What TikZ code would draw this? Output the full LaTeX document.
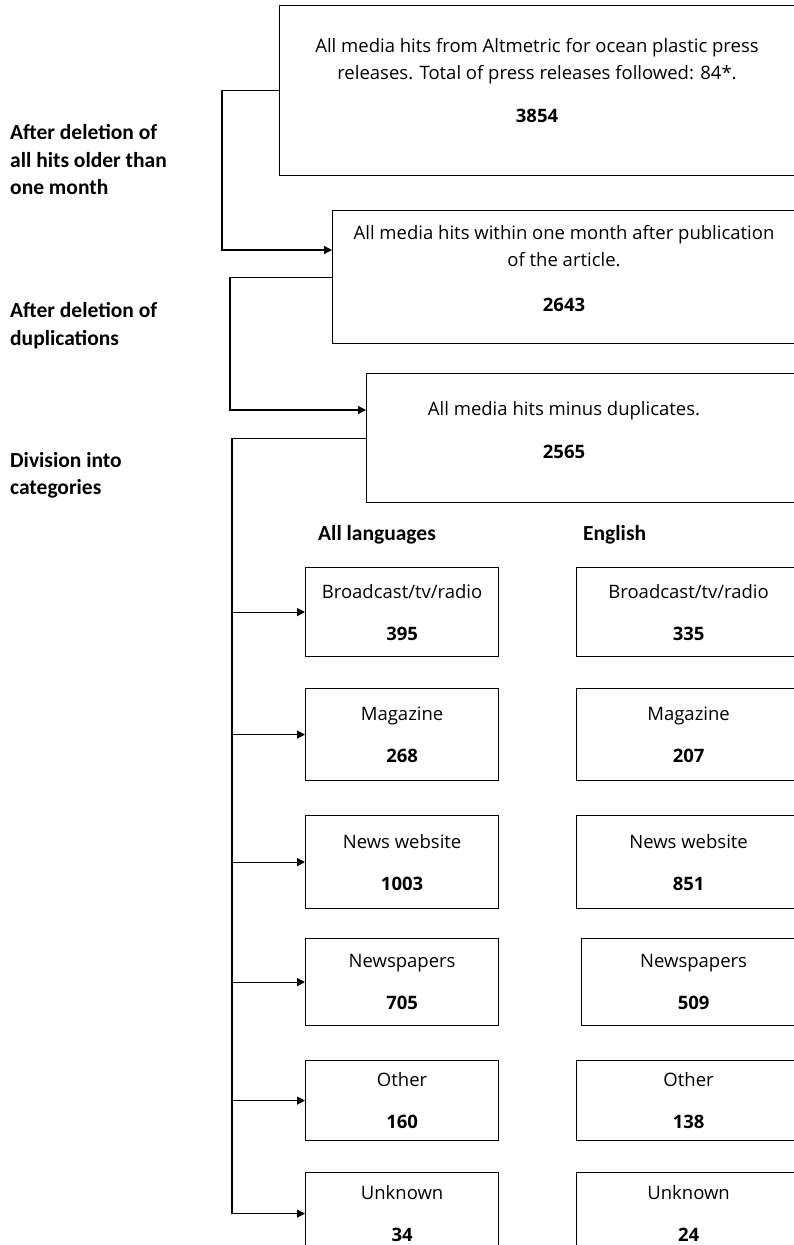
\documentclass[tikz,border=0pt]{standalone}
\usepackage{fontspec}
\setmainfont{Open Sans}
\newfontfamily\labelfont{Carlito}
\usetikzlibrary{arrows.meta,positioning}

\tikzset{
	bigbox/.style={draw, line width=1.2pt, anchor=north west, inner sep=0pt},
	catbox/.style={draw, line width=1.2pt, anchor=north west, align=center, inner sep=0pt,
		font=\fontsize{18.5}{27}\selectfont},
	boxtext/.style={align=center, font=\fontsize{18.5}{27}\selectfont},
	sidelabel/.style={anchor=west, align=left, inner sep=0pt, font=\labelfont\bfseries\fontsize{21.5}{27.5}\selectfont},
	conn/.style={line width=1.2pt},
	arr/.style={conn, -{Triangle[length=8pt,width=8pt]}}
}

\begin{document}
\begin{tikzpicture}[x=1pt, y=-1pt]
	% Rahmen
	\fill[white] (0,0) rectangle (794,1245);
	\useasboundingbox (0,0) rectangle (794,1245);
	
	% Hauptkaesten
	\node[bigbox, minimum width=521pt, minimum height=170pt] (hits) at (279,5) {};
	\node[boxtext] (hitstxt) at (537,81) {All media hits from Altmetric for ocean plastic press\\ releases. Total of press releases followed: 84*.\\[16pt] \textbf{3854}};
	\node[bigbox, minimum width=468pt, minimum height=133pt] (month) at (332,210) {};
	\node[boxtext] (monthtxt) at (564,269) {All media hits within one month after publication\\ of the article.\\[18pt] \textbf{2643}};
	\node[bigbox, minimum width=434pt, minimum height=129pt] (dupl) at (366,373) {};
	\node[boxtext] (dupltxt) at (564,430) {All media hits minus duplicates.\\[16pt] \textbf{2565}};
	
	% Beschriftung links
	\node[sidelabel] (step1) at (10,160) {After deletion of\\ all hits older than\\ one month};
	\node[sidelabel] (step2) at (10,325.5) {After deletion of\\ duplications};
	\node[sidelabel] (step3) at (10,475.5) {Division into\\ categories};
	
	% Spaltenkoepfe
	\node[sidelabel] (allhead) at (318,535) {All languages};
	\node[sidelabel] (enhead) at (583,535) {English};
	
	% Verbindungen oben
	\draw[arr] (hits.west) -- ++(-57,0) |- ([yshift=-40pt]month.north west);
	\draw[arr] (month.west) -- ++(-102,0) |- ([yshift=-37pt]dupl.north west);
	\draw[conn] (dupl.west) -- ++(-134,0) coordinate (spine);
	
	% Kategorien: Oben/Hoehe/Name/Alle/Englisch/rechts x
	\foreach \n/\top/\h/\name/\all/\en/\rx in {
		1/567/89/{Broadcast/tv/radio}/395/335/576,
		2/688/92/Magazine/268/207/576,
		3/815/93/News website/1003/851/576,
		4/938/87/Newspapers/705/509/581,
		5/1060/80/Other/160/138/576,
		6/1172/82/Unknown/34/24/576
	} {
		\node[catbox, minimum width=193pt, minimum height=\h pt] (all\n) at (305,\top) {\name\\[15pt] \textbf{\all}};
		\node[catbox, minimum width=224pt, minimum height=\h pt] (en\n) at (\rx,\top) {\name\\[15pt] \textbf{\en}};
		\draw[arr] (spine |- all\n.west) -- (all\n.west);
	}
	
	% senkrechte Hauptlinie
	\draw[line width=2.3pt] (spine) -- (spine |- all6.west);
\end{tikzpicture}
\end{document}
